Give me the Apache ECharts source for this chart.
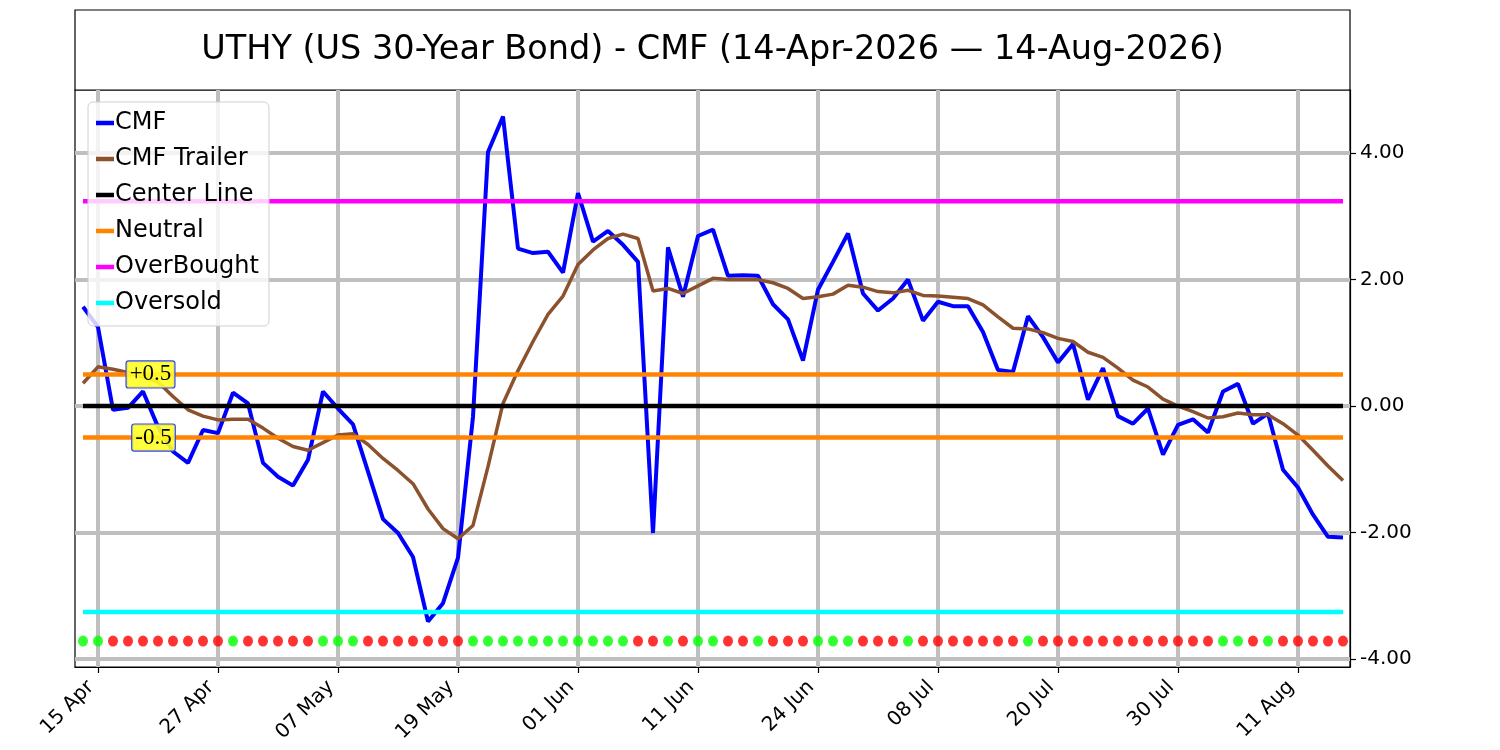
<!DOCTYPE html>
<html>
<head>
<meta charset="utf-8">
<title>UTHY CMF</title>
<script src="https://cdn.jsdelivr.net/npm/echarts@6.0.0/dist/echarts.min.js"></script>
<style>
html, body { margin: 0; padding: 0; background: #fff; }
#main { width: 1500px; height: 750px; }
</style>
</head>
<body>
<div id="main"></div>
<script>
// one value per trading day, 14-Apr-2026 .. 14-Aug-2026 (85 days)
var cmf = [
  1.57, 1.25, -0.06, -0.03, 0.23, -0.33, -0.72, -0.90, -0.38, -0.43,
  0.21, 0.04, -0.90, -1.12, -1.26, -0.85, 0.23, -0.04, -0.29, -1.04,
  -1.79, -2.01, -2.39, -3.41, -3.12, -2.40, -0.17, 4.02, 4.58, 2.49,
  2.42, 2.44, 2.11, 3.37, 2.60, 2.77, 2.55, 2.28, -2.01, 2.51,
  1.73, 2.69, 2.79, 2.06, 2.07, 2.06, 1.61, 1.37, 0.72, 1.84,
  2.28, 2.73, 1.78, 1.51, 1.70, 2.00, 1.35, 1.65, 1.58, 1.58,
  1.17, 0.57, 0.54, 1.42, 1.09, 0.69, 0.98, 0.10, 0.60, -0.16,
  -0.28, -0.04, -0.77, -0.30, -0.21, -0.42, 0.23, 0.35, -0.28, -0.12,
  -1.01, -1.29, -1.72, -2.07, -2.08
];
var cmfTrailer = [
  0.36, 0.62, 0.58, 0.53, 0.46, 0.38, 0.15, -0.06, -0.16, -0.22,
  -0.21, -0.21, -0.35, -0.51, -0.64, -0.70, -0.58, -0.46, -0.44, -0.61,
  -0.83, -1.02, -1.23, -1.63, -1.94, -2.10, -1.89, -0.96, 0.04, 0.56,
  1.02, 1.45, 1.74, 2.24, 2.47, 2.65, 2.72, 2.65, 1.82, 1.86,
  1.78, 1.90, 2.02, 2.00, 2.00, 2.00, 1.95, 1.86, 1.70, 1.73,
  1.77, 1.91, 1.88, 1.81, 1.79, 1.83, 1.75, 1.74, 1.72, 1.70,
  1.60, 1.41, 1.23, 1.22, 1.16, 1.07, 1.02, 0.85, 0.77, 0.60,
  0.41, 0.30, 0.11, 0.00, -0.09, -0.19, -0.17, -0.11, -0.14, -0.14,
  -0.28, -0.46, -0.70, -0.95, -1.18
];
// G = green dot, R = red dot (bottom strip)
var dotColors = ('GGRRRRRRRRGRRRRRGGGRRRRRRRGGGGGGGGGGGRRGRGGRRGRRRGGGRRRGRRRRRRRGRRRRRRRRRRRRGGRGRRRRR').split('');

var tickIndex = [1, 9, 17, 25, 33, 41, 49, 57, 65, 73, 81];
var tickLabels = ['15 Apr', '27 Apr', '07 May', '19 May', '01 Jun', '11 Jun',
                  '24 Jun', '08 Jul', '20 Jul', '30 Jul', '11 Aug'];
var yTicks = [-4, -2, 0, 2, 4];

var centerLevel = 0;
var neutralHigh = 0.5;
var neutralLow = -0.5;
var overBought = 3.24;
var overSold = -3.26;
var dotLevel = -3.72;

var FONT = 'DejaVu Sans';

function pairs(arr) {
  return arr.map(function (v, i) { return [i, v]; });
}
function flat(level) {
  return cmf.map(function (v, i) { return [i, level]; });
}
function levelSeries(name, level, color, extra) {
  var s = {
    name: name,
    type: 'line',
    data: flat(level),
    showSymbol: false,
    color: color,
    lineStyle: { color: color, width: 4.5 },
    z: 3
  };
  if (extra) s.markPoint = extra;
  return s;
}
function tagPoint(x, y, text) {
  return {
    symbol: 'circle',
    symbolSize: 1,
    itemStyle: { color: 'rgba(0,0,0,0)' },
    data: [{
      coord: [x, y],
      label: {
        show: true,
        position: 'inside',
        formatter: text,
        fontFamily: 'Liberation Serif',
        fontSize: 23,
        color: '#000',
        backgroundColor: 'rgba(255,255,40,0.9)',
        borderColor: '#3344ff',
        borderWidth: 1.2,
        borderRadius: 2,
        padding: [2, 3, 1, 3]
      }
    }],
    z: 10
  };
}

var chart = echarts.init(document.getElementById('main'), null, { renderer: 'canvas' });

var option = {
  animation: false,
  backgroundColor: '#fff',
  textStyle: { fontFamily: FONT },
  graphic: [
    {
      type: 'rect',
      shape: { x: 75, y: 10, width: 1275, height: 80 },
      style: { fill: '#fff', stroke: '#000', lineWidth: 1.2 },
      z: 0
    },
    {
      type: 'text',
      x: 712.5, y: 50,
      style: {
        text: 'UTHY (US 30-Year Bond) - CMF (14-Apr-2026 \u2014 14-Aug-2026)',
        font: '33.5px "DejaVu Sans"',
        fill: '#000',
        textAlign: 'center',
        textVerticalAlign: 'middle'
      },
      z: 1
    }
  ],
  grid: {
    left: 75, right: 150, top: 90, bottom: 83,
    show: true, borderColor: '#000', borderWidth: 1.2, containLabel: false
  },
  legend: {
    data: ['CMF', 'CMF Trailer', 'Center Line', 'Neutral', 'OverBought', 'Oversold'],
    orient: 'vertical',
    left: 88, top: 102,
    icon: 'rect',
    itemWidth: 18, itemHeight: 4.5,
    itemGap: 10,
    padding: [8, 10, 10, 8],
    backgroundColor: 'rgba(255,255,255,0.8)',
    borderColor: '#d0d0d0', borderWidth: 1, borderRadius: 5,
    textStyle: { fontFamily: FONT, fontSize: 24, lineHeight: 26, color: '#000', padding: [0, 0, 0, -4] },
    z: 20
  },
  xAxis: {
    type: 'value',
    min: -0.5333, max: 84.4667,
    axisLine: { show: true, onZero: false, lineStyle: { color: '#000', width: 1.2 } },
    axisTick: { show: true, customValues: tickIndex, length: 6, lineStyle: { color: '#000', width: 1.2 } },
    axisLabel: {
      customValues: tickIndex,
      rotate: 45,
      margin: 10,
      padding: [0, 10, 0, 0],
      fontFamily: FONT, fontSize: 20, color: '#000',
      formatter: function (v) {
        var k = tickIndex.indexOf(Math.round(v));
        return k >= 0 ? tickLabels[k] : '';
      }
    },
    splitLine: { show: false }
  },
  yAxis: {
    type: 'value',
    position: 'right',
    min: -4.13, max: 5.0,
    axisLine: { show: true, onZero: false, lineStyle: { color: '#000', width: 1.2 } },
    axisTick: { show: true, customValues: yTicks, length: 6, lineStyle: { color: '#000', width: 1.2 } },
    axisLabel: {
      customValues: yTicks,
      margin: 10,
      fontFamily: FONT, fontSize: 20, color: '#000',
      formatter: function (v) { return v.toFixed(2); }
    },
    splitLine: { show: false }
  },
  series: [
    {
      name: 'grid',
      type: 'line',
      data: [],
      silent: true,
      z: 1,
      markLine: {
        z: 1,
        silent: true,
        symbol: ['none', 'none'],
        label: { show: false },
        lineStyle: { color: '#bfbfbf', width: 4, type: 'solid' },
        data: tickIndex.map(function (i) { return { xAxis: i }; })
          .concat(yTicks.map(function (v) { return { yAxis: v }; }))
      }
    },
    {
      name: 'CMF',
      type: 'line',
      data: pairs(cmf),
      showSymbol: false,
      color: '#0000ff',
      lineStyle: { color: '#0000ff', width: 4 },
      z: 3
    },
    {
      name: 'CMF Trailer',
      type: 'line',
      data: pairs(cmfTrailer),
      showSymbol: false,
      color: '#8c522d',
      lineStyle: { color: '#8c522d', width: 3.5 },
      z: 3
    },
    levelSeries('Center Line', centerLevel, '#000000'),
    levelSeries('Neutral', neutralHigh, '#ff8400', tagPoint(4.5, neutralHigh, '+0.5')),
    levelSeries('Neutral', neutralLow, '#ff8400', tagPoint(4.7, neutralLow, '-0.5')),
    levelSeries('OverBought', overBought, '#ff00ff'),
    levelSeries('Oversold', overSold, '#00ffff'),
    {
      name: 'dots',
      type: 'scatter',
      symbol: 'circle',
      symbolSize: [10, 11],
      data: dotColors.map(function (c, i) {
        return {
          value: [i, dotLevel],
          itemStyle: { color: c === 'G' ? '#00ff00' : '#ff0000' }
        };
      }),
      z: 4
    }
  ]
};

chart.setOption(option);
</script>
</body>
</html>
